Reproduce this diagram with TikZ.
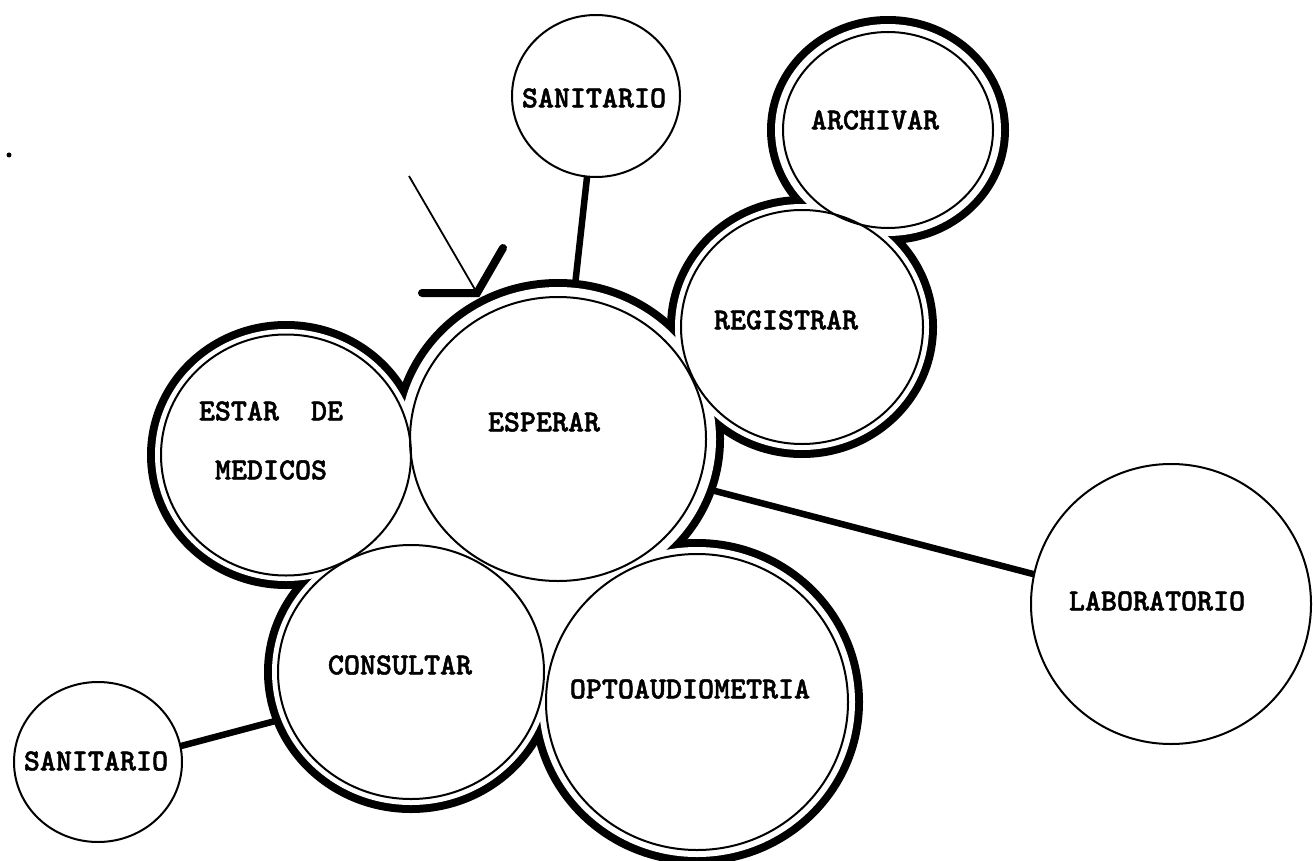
\documentclass[tikz,border=0pt]{standalone}
\usepackage{fontspec}
\newfontfamily\twfont{lmmonolt10-bold.otf}[FakeBold=1.6]
\usetikzlibrary{shapes.geometric,calc}
\pgfdeclarelayer{paper}
\pgfdeclarelayer{lines}
\pgfdeclarelayer{ringb}
\pgfdeclarelayer{ringw}
\pgfsetlayers{paper,lines,ringb,ringw,main}
\newcommand\ringaround[4]{%
  \begin{pgfonlayer}{ringb}
    \fill[black] (#1.center) ellipse [x radius={(#2+#4+4)*1pt}, y radius={(#3+#4+4)*1pt}];
  \end{pgfonlayer}
  \begin{pgfonlayer}{ringw}
    \fill[white] (#1.center) ellipse [x radius={(#2+#4-4)*1pt}, y radius={(#3+#4-4)*1pt}];
  \end{pgfonlayer}}
\begin{document}
\begin{tikzpicture}[x=1pt,y=-1pt,
  room/.style={ellipse, draw, line width=2pt, inner sep=0pt, outer sep=0pt},
  freeroom/.style={room, fill=white},
  lbl/.style={font=\twfont\fontsize{30.5}{34}\selectfont, inner sep=0pt, anchor=center},
  conn/.style={line width=6.5pt},
  thinarrow/.style={line width=1.8pt},
  headstroke/.style={line width=8pt, line cap=round}]
\begin{pgfonlayer}{paper}
\fill[white] (0,0) rectangle (1313,861);
\end{pgfonlayer}
\useasboundingbox (0,0) rectangle (1313,861);

% rooms
\node[freeroom, minimum width=168pt, minimum height=162pt] (san1) at (596,96) {};
\node[room, minimum width=210pt, minimum height=196pt] (arch) at (888,130) {};
\node[room, minimum width=242pt, minimum height=234pt] (reg) at (802,327) {};
\node[room, minimum width=296pt, minimum height=284pt] (esp) at (558,439) {};
\node[room, minimum width=250pt, minimum height=241pt] (est) at (286,455) {};
\node[room, minimum width=266pt, minimum height=254pt] (cons) at (411,672) {};
\node[room, minimum width=302pt, minimum height=296pt] (opto) at (697,702) {};
\node[freeroom, minimum width=280pt, minimum height=280pt] (lab) at (1171,604) {};
\node[freeroom, minimum width=168pt, minimum height=160pt] (san2) at (98,762) {};

% thick outline of the cluster
\ringaround{arch}{105}{98}{12}
\ringaround{reg}{121}{117}{10}
\ringaround{esp}{148}{142}{14}
\ringaround{est}{125}{120}{10}
\ringaround{cons}{133}{127}{10}
\ringaround{opto}{151}{148}{11}
\begin{pgfonlayer}{ringw}
\fill[white] (est.center) -- (esp.center) -- (cons.center) -- cycle;
\fill[white] (esp.center) -- (cons.center) -- (opto.center) -- cycle;
\end{pgfonlayer}

% labels
\node[lbl] (tsan1) at (594,98) {SANITARIO};
\node[lbl] (tarch) at (875,120) {ARCHIVAR};
\node[lbl] (treg) at (786,320) {REGISTRAR};
\node[lbl] (tesp) at (544,422) {ESPERAR};
\node[lbl] (test) at (271,411) {ESTAR\ \ DE};
\node[lbl] (tmed) at (271,470) {MEDICOS};
\node[lbl] (tcons) at (400,665) {CONSULTAR};
\node[lbl] (topto) at (690,689) {OPTOAUDIOMETRIA};
\node[lbl] (tlab) at (1157,601) {LABORATORIO};
\node[lbl] (tsan2) at (96,761) {SANITARIO};

% connectors
\begin{pgfonlayer}{lines}
\draw[conn] (san1.center) -- (esp.center);
\draw[conn] ([yshift=-11pt]esp.center) -- ([yshift=-6pt]lab.center);
\draw[conn] ([yshift=-6pt]san2.center) -- ([yshift=-13pt]cons.center);
\end{pgfonlayer}

% entrance arrow
\coordinate (arrS) at (409,176);
\coordinate (arrT) at (477,293);
\draw[thinarrow] (arrS) -- (arrT);
\draw[headstroke] ($(arrT)+(-55,0)$) -- (arrT) -- ($(arrT)+(26,-45)$);

% speck
\fill (9,155) circle (2.5pt);
\end{tikzpicture}
\end{document}
